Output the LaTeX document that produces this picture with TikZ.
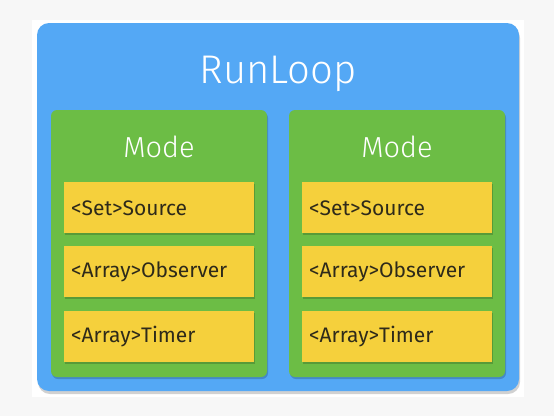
\documentclass[tikz,border=0pt]{standalone}
\usepackage{fontspec}
\setmainfont{Fira Sans}
\newfontfamily\lightfont{Fira Sans Light}
\definecolor{bgc}{HTML}{F7F7F7}
\definecolor{bluec}{HTML}{54A8F5}
\definecolor{greenc}{HTML}{6CBD45}
\definecolor{yellowc}{HTML}{F5D03C}
\definecolor{txtc}{HTML}{2E2A1A}
\tikzset{
  runbox/.style={fill=bluec, rounded corners=12pt},
  modebox/.style={fill=greenc, rounded corners=6pt},
  itembox/.style={fill=yellowc},
  shad/.style={fill=black, opacity=0.18},
  itemtxt/.style={font=\fontsize{21}{22}\selectfont, text=txtc, anchor=west, inner sep=0pt},
  modetxt/.style={font=\lightfont\fontsize{29}{30}\selectfont, text=white, inner sep=0pt, anchor=base},
  runtxt/.style={font=\lightfont\fontsize{40}{42}\selectfont, text=white, inner sep=0pt, anchor=base},
}
\begin{document}
\begin{tikzpicture}[x=1pt,y=-1pt]
\fill[bgc] (0,0) rectangle (554,416);
\useasboundingbox (0,0) rectangle (554,416);
\fill[white] (32,20) rectangle (524,397);
% outer
\fill[shad, rounded corners=12pt] (38,26) rectangle (520,394);
\fill[runbox] (37,23) rectangle (519,391);
\node[runtxt] (run) at (278,83) {RunLoop};
% modes
\foreach \x/\n in {51/a,289/b}{
  \fill[shad, rounded corners=6pt] (\x+1,112) rectangle (\x+217,379);
  \fill[modebox] (\x,110) coordinate (m\n) rectangle (\x+216,377);
  \node[modetxt] (mode\n) at (\x+108,157) {Mode};
  \foreach \y/\t/\k in {182/{<Set>Source}/1,246/{<Array>Observer}/2,311/{<Array>Timer}/3}{
    \fill[shad] (\x+14,\y+2) rectangle (\x+204,\y+53);
    \fill[itembox] (\x+13,\y) rectangle (\x+203,\y+51);
    \node[itemtxt] (item\n\k) at (\x+20,\y+26) {\t};
  }
}
\end{tikzpicture}
\end{document}
